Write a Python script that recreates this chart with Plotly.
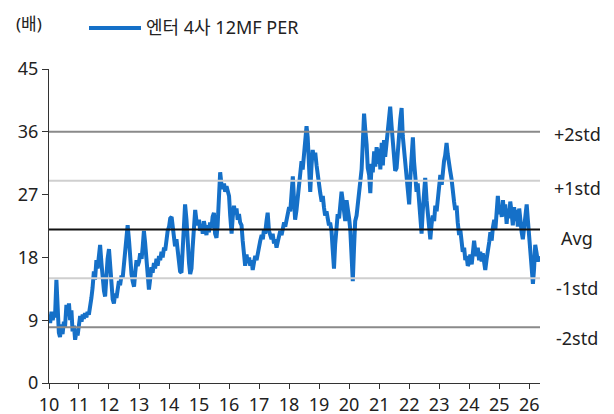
import pandas as pd
import plotly.graph_objects as go

# Semi-monthly 12MF PER of the four entertainment companies (x), 2010 ~ 2026
per_2010 = [9.8, 8.6, 10.2, 9.0, 10.0, 9.4, 14.8, 11.0, 7.2, 6.6, 8.4, 7.0,
            8.8, 8.0, 11.2, 9.6, 11.4, 9.0, 10.4, 7.4, 8.2, 6.2, 7.4, 6.8]
per_2011 = [8.2, 9.6, 8.8, 9.8, 9.2, 10.0, 9.4, 10.2, 9.8, 10.6, 12.2, 13.6,
            16.0, 14.8, 17.6, 16.4, 18.6, 19.8, 17.2, 15.0, 13.2, 12.4, 15.6, 17.8]
per_2012 = [19.2, 16.8, 14.2, 12.0, 11.4, 12.8, 12.2, 13.4, 14.6, 14.0, 15.4, 15.0,
            16.8, 18.4, 20.2, 22.6, 20.4, 17.8, 15.6, 14.6, 13.8, 15.8, 17.6, 16.8]
per_2013 = [17.4, 18.6, 17.8, 19.6, 21.8, 20.2, 17.0, 15.2, 13.4, 14.8, 16.6, 15.8,
            17.2, 16.4, 17.8, 16.8, 18.2, 17.6, 18.8, 18.0, 19.4, 19.0, 20.6, 21.8]
per_2014 = [22.4, 23.6, 23.8, 22.6, 21.2, 19.6, 20.6, 19.0, 17.4, 16.0, 15.8, 19.0,
            23.0, 25.6, 23.4, 19.8, 17.2, 15.6, 16.4, 19.4, 22.0, 24.8, 23.2, 22.6]
per_2015 = [23.4, 21.8, 22.8, 21.4, 23.2, 22.0, 21.2, 22.6, 21.6, 23.0, 22.2, 23.8,
            24.4, 21.4, 20.8, 22.6, 28.6, 30.2, 28.4, 27.8, 28.6, 27.4, 28.2, 27.6]
per_2016 = [26.8, 24.0, 21.4, 23.8, 25.4, 24.2, 25.0, 23.4, 24.2, 23.0, 22.6, 20.4,
            18.6, 16.8, 18.4, 17.2, 18.0, 16.8, 17.6, 16.2, 17.4, 18.2, 17.6, 18.8]
per_2017 = [19.6, 20.4, 21.2, 20.6, 22.0, 21.4, 23.2, 24.4, 21.8, 21.0, 20.6, 21.4,
            20.0, 20.6, 19.4, 20.2, 21.0, 21.8, 21.2, 22.4, 23.0, 22.4, 23.6, 24.2]
per_2018 = [25.2, 24.6, 27.6, 29.6, 26.4, 23.4, 24.8, 26.6, 28.0, 29.4, 31.8, 30.6,
            32.8, 34.6, 36.8, 35.2, 30.4, 27.4, 31.2, 33.4, 32.0, 33.0, 31.2, 29.6]
per_2019 = [28.4, 27.2, 26.0, 26.8, 25.2, 24.0, 24.6, 23.2, 22.6, 23.0, 21.8, 19.2,
            16.4, 19.8, 22.4, 24.2, 23.6, 25.4, 27.4, 26.2, 24.0, 23.2, 26.2, 24.4]
per_2020 = [23.6, 22.0, 17.6, 14.6, 19.4, 23.2, 24.0, 25.8, 27.6, 29.4, 30.6, 34.2,
            38.6, 36.4, 34.2, 30.8, 29.8, 27.2, 31.4, 30.2, 33.2, 31.0, 33.8, 31.4]
per_2021 = [33.6, 30.6, 34.4, 31.2, 34.8, 32.4, 34.6, 35.8, 37.4, 39.6, 36.8, 35.2,
            32.6, 30.4, 30.8, 32.4, 35.6, 37.8, 39.4, 35.4, 33.2, 31.6, 30.2, 28.0]
per_2022 = [25.6, 29.4, 32.6, 35.2, 31.8, 29.2, 27.4, 28.6, 25.8, 23.4, 21.4, 24.6,
            27.8, 29.4, 26.2, 24.4, 21.8, 20.6, 22.8, 24.0, 23.2, 25.4, 24.6, 26.8]
per_2023 = [28.6, 29.8, 28.4, 30.6, 31.8, 32.6, 34.4, 32.8, 31.0, 30.4, 29.2, 27.2,
            26.0, 24.8, 25.4, 23.0, 21.2, 22.0, 19.6, 18.8, 19.4, 17.6, 18.2, 16.8]
per_2024 = [17.2, 18.4, 17.0, 19.2, 20.4, 19.0, 18.2, 19.4, 17.6, 18.8, 17.4, 18.6,
            16.8, 16.2, 17.8, 18.6, 20.2, 21.6, 20.4, 22.2, 23.4, 22.0, 24.6, 26.8]
per_2025 = [24.2, 25.4, 23.8, 26.2, 24.0, 25.6, 22.8, 25.0, 23.6, 26.0, 24.4, 22.6,
            25.2, 23.2, 24.8, 22.4, 25.0, 23.0, 21.6, 20.6, 22.8, 24.6, 25.6, 23.4]
per_2026 = [20.8, 18.2, 15.6, 14.2, 16.4, 19.8, 18.6, 17.4, 18.2]

per_values = (per_2010 + per_2011 + per_2012 + per_2013 + per_2014 + per_2015
              + per_2016 + per_2017 + per_2018 + per_2019 + per_2020 + per_2021
              + per_2022 + per_2023 + per_2024 + per_2025 + per_2026)
per_dates = pd.date_range("2010-01-01", periods=len(per_values), freq="SMS")

# Band levels: average and +/- 1, 2 standard deviations
per_avg = 22.0
per_std = 7.0
band_labels = ["+2std", "+1std", "Avg", "-1std", "-2std"]
band_values = [per_avg + 2 * per_std, per_avg + per_std, per_avg,
               per_avg - per_std, per_avg - 2 * per_std]

year_ticks = [f"{y}-01-01" for y in range(2010, 2027)]
year_labels = [f"{y % 100:02d}" for y in range(2010, 2027)]
y_ticks = [0, 9, 18, 27, 36, 45]

series_name = "엔터 4사 12MF PER"
unit_label = "(배)"

# ---- styling ----
BLUE = "#1570C8"
TEXT = "#222222"
FONT = "Noto Sans, Noto Sans CJK KR, sans-serif"
band_styles = {
    "+2std": dict(color="#8a8a8a", width=2),
    "+1std": dict(color="#cfcfcf", width=2),
    "Avg": dict(color="#111111", width=2),
    "-1std": dict(color="#cfcfcf", width=2),
    "-2std": dict(color="#8a8a8a", width=2),
}
label_shift = {"+2std": -2, "+1std": -7, "Avg": -9, "-1std": -10, "-2std": -11}

W, H = 614, 414
L, R, T, B = 49, 74, 69, 31
plot_w = W - L - R
plot_h = H - T - B


def px_x(px):
    return (px - L) / plot_w


def px_y(py):
    return (H - B - py) / plot_h


fig = go.Figure()
fig.add_trace(go.Scatter(
    x=per_dates, y=per_values, mode="lines", name=series_name,
    line=dict(color=BLUE, width=4), showlegend=False,
))

for lab, val in zip(band_labels, band_values):
    fig.add_shape(type="line", xref="paper", x0=0, x1=1, yref="y", y0=val, y1=val,
                  line=band_styles[lab], layer="above")
    fig.add_annotation(text=lab, xref="paper", x=px_x(577), xanchor="center",
                       yref="y", y=val, yanchor="middle", yshift=label_shift[lab],
                       showarrow=False, font=dict(size=18, color=TEXT, family=FONT))

# legend sample and caption
fig.add_shape(type="line", xref="paper", yref="paper",
              x0=px_x(89), x1=px_x(141), y0=px_y(28), y1=px_y(28),
              line=dict(color=BLUE, width=4))
fig.add_annotation(text=series_name, xref="paper", yref="paper",
                   x=px_x(144), y=px_y(27), xanchor="left", yanchor="middle",
                   showarrow=False, font=dict(size=18, color=TEXT, family=FONT))
fig.add_annotation(text=unit_label, xref="paper", yref="paper",
                   x=px_x(14), y=px_y(23), xanchor="left", yanchor="middle",
                   showarrow=False, font=dict(size=17, color=TEXT, family=FONT))

fig.update_layout(
    width=W, height=H,
    margin=dict(l=L, r=R, t=T, b=B, pad=0, autoexpand=False),
    paper_bgcolor="white", plot_bgcolor="white",
    font=dict(family=FONT, size=18, color=TEXT),
    showlegend=False,
)
fig.update_xaxes(
    range=["2010-01-01", "2026-05-12"], automargin=False,
    tickmode="array", tickvals=year_ticks, ticktext=year_labels,
    showgrid=False, zeroline=False,
    showline=True, linecolor="#333333", linewidth=1,
    ticks="outside", ticklen=5, tickcolor="#333333",
    tickfont=dict(size=18, color=TEXT, family=FONT),
)
fig.update_yaxes(
    range=[0, 45], tickmode="array", tickvals=y_ticks, automargin=False,
    showgrid=False, zeroline=False,
    showline=True, linecolor="#333333", linewidth=1,
    ticks="outside", ticklen=6, tickcolor="#333333",
    tickfont=dict(size=18, color=TEXT, family=FONT),
)

fig.write_html("out.html")
